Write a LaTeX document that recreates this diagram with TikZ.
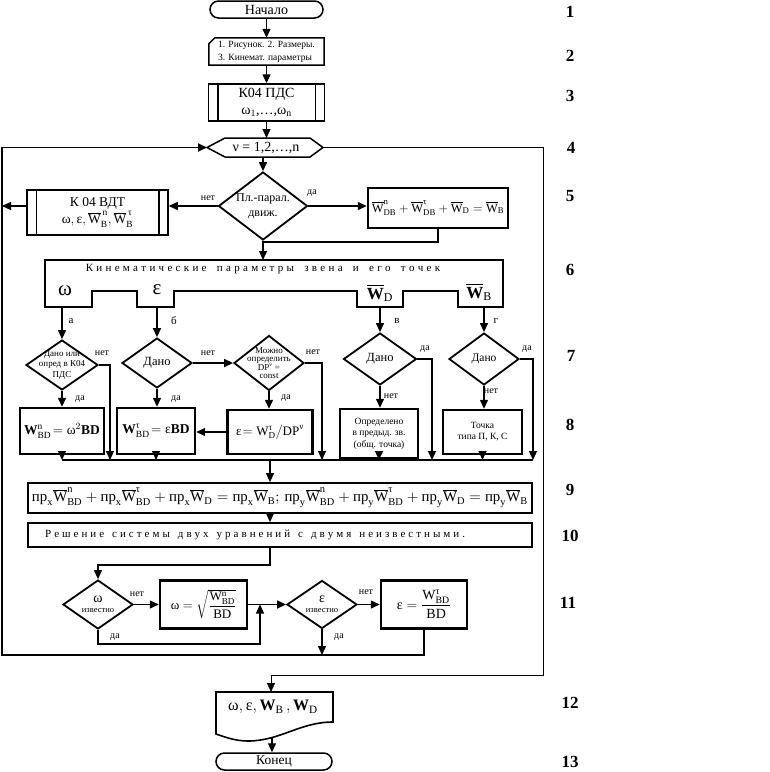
\RequirePackage{fix-cm}
\documentclass[tikz,border=0pt]{standalone}
\usepackage{amsmath}
\usepackage{fontspec}
\setmainfont{Liberation Serif}
\usetikzlibrary{arrows.meta,shapes.geometric,calc}
\newcommand{\Wo}{\overline{\mathrm{W}}}
\newcommand{\prj}{\text{пр}}
\newcommand{\gom}{\text{ω}}
\newcommand{\geps}{\text{ε}}
\newcommand{\gtau}{\text{τ}}
\newcommand{\gnu}{\text{ν}}
\newcommand{\fs}[2]{\fontsize{#1}{#2}\selectfont}
\tikzset{
  ln/.style={line width=1.3pt},
  arr/.style={line width=1.3pt,-{Triangle[length=9pt,width=8pt]}},
  thinbox/.style={draw,line width=1.5pt,inner sep=0pt,align=center},
  thickbox/.style={draw,line width=2.4pt,inner sep=0pt,align=center},
  dia/.style 2 args={draw,diamond,line width=1.8pt,inner sep=0pt,minimum width=#1pt,minimum height=#2pt},
  txt/.style={inner sep=0pt,align=center},
  yn/.style={inner sep=0pt,font=\fs{10}{11}},
  num/.style={inner sep=0pt,font=\fs{17}{17}\bfseries},
}
\begin{document}
\begin{tikzpicture}[x=1pt,y=-1pt]
\useasboundingbox (0,0) rectangle (770,772);
% ---- 1
\node[thinbox,rounded corners=8.5pt,minimum width=113pt,minimum height=17pt,font=\fs{14}{15}] (start) at (266.5,9.5) {Начало};
% ---- 2
\node[txt,minimum width=115pt,minimum height=27pt,font=\fs{9.5}{12.5}] (b2) at (266.5,51.5) {\begin{tabular}{@{}l@{}}1. Рисунок. 2. Размеры.\\3. Кинемат. параметры\end{tabular}};
\draw[line width=1.5pt] (b2.south west) -- ([yshift=-6pt]b2.north west) -- ([xshift=6pt]b2.north west) -- (b2.north east) -- (b2.south east) -- cycle;
\draw[arr] (start) -- (b2);
% ---- 3
\node[thinbox,minimum width=116pt,minimum height=37pt,font=\fs{14}{17}] (b3) at (266.5,102.5) {К04 ПДС\\ω$_{1}$,…,ω$_{\mathrm{n}}$};
\draw[line width=1.5pt] ([xshift=10pt]b3.north west) -- ([xshift=10pt]b3.south west)
  ([xshift=-10pt]b3.north east) -- ([xshift=-10pt]b3.south east);
\draw[arr] (b2) -- (b3);
% ---- 4 loop
\node[txt,font=\fs{14}{15}] (hex) at (266,147.5) {ν = 1,2,…,n};
\draw[line width=1.5pt] (207,147.5) -- (225,138) -- (310,138) -- (323,147.5) -- (310,157) -- (225,157) -- cycle;
\coordinate (hexL) at (207,147.5);
\coordinate (hexR) at (323,147.5);
\coordinate (hexT) at (266.5,138);
\coordinate (hexB) at (263,157);
\draw[arr] (b3.south) -- (hexT);
% ---- 5
\node[dia={89}{68}] (d5) at (263,206) {};
\node[txt,font=\fs{12}{15}] at (d5) {Пл.-парал.\\движ.};
\draw[arr] (hexB) -- (d5);
\node[thinbox,minimum width=141pt,minimum height=45pt,font=\fs{13.5}{17}] (vdt) at (97.5,212.5) {К 04 ВДТ\\$\gom,\geps,\Wo^{\,\mathrm{n}}_{\mathrm{B}},\Wo^{\,\gtau}_{\mathrm{B}}$};
\draw[line width=1.5pt] ([xshift=10pt]vdt.north west) -- ([xshift=10pt]vdt.south west)
  ([xshift=-10pt]vdt.north east) -- ([xshift=-10pt]vdt.south east);
\draw[arr] (d5.west) -- (d5.west -| vdt.east);
\coordinate (L5) at (2,206);
\draw[arr] (vdt.west |- d5.west) -- (L5);
\node[yn] at (208,198) {нет};
\node[thickbox,minimum width=140pt,minimum height=40pt,font=\fs{12.5}{15}] (bw) at (438,208) {$\Wo^{\mathrm{n}}_{\mathrm{DB}}+\Wo^{\gtau}_{\mathrm{DB}}+\Wo_{\mathrm{D}}=\Wo_{\mathrm{B}}$};
\draw[arr] (d5.east) -- (d5.east -| bw.west);
\node[yn] at (312,193) {да};
\coordinate (j5) at (263,242);
\coordinate (b6T) at (263,260);
\draw[arr] (bw.south) |- (j5) -- (b6T);
% ---- 6
\draw[line width=1.6pt] (45,260) -- (503,260) -- (503,307) -- (458,307) -- (458,291) -- (403,291) -- (403,307) -- (357,307) -- (357,291) -- (174,291) -- (174,307) -- (137,307) -- (137,291) -- (92,291) -- (92,307) -- (45,307) -- cycle;
\node[txt,font=\fs{11}{12}] (t6) at (263,269) {\spaceskip=3.3pt\relax К и н е м а т и ч е с к и е\hspace{7pt} п а р а м е т р ы\hspace{7pt} з в е н а\hspace{7pt} и\hspace{7pt} е г о\hspace{7pt} т о ч е к};
\node[txt,font=\fs{21}{21}] (tw) at (65,291) {ω};
\node[txt,font=\fs{21}{21}] (te) at (157,290) {ε};
\node[txt,font=\fs{17}{17}] (twd) at (380,293) {$\overline{\mathbf{W}}_{\mathrm{D}}$};
\node[txt,font=\fs{17}{17}] (twb) at (479,292) {$\overline{\mathbf{W}}_{\mathrm{B}}$};
\coordinate (ta) at (62,307);
\coordinate (tb) at (157,307);
\coordinate (tc) at (380,307);
\coordinate (td) at (484,307);
\node[yn,font=\fs{11}{12}] at (71,321) {а};
\node[yn,font=\fs{11}{12}] at (174,321) {б};
\node[yn,font=\fs{11}{12}] at (397,321) {в};
\node[yn,font=\fs{11}{12}] at (496,321) {г};
% ---- 7
\node[dia={72}{50}] (da) at (62,365) {};
\node[txt,font=\fs{9}{10.5}] at (da) {Дано или\\опред в К04\\ПДС};
\node[dia={70}{50}] (db) at (157,363) {};
\node[txt,font=\fs{12.5}{13}] at (db) {Дано};
\node[dia={70}{55}] (dc) at (269,363) {};
\node[txt,font=\fs{9}{8.5}] at (dc) {Можно\\определить\\DP$^{\gnu}$ =\\const};
\node[dia={73}{52}] (dd) at (380,359) {};
\node[txt,font=\fs{12.5}{13}] at (dd) {Дано};
\node[dia={70}{52}] (de) at (484,359) {};
\node[txt,font=\fs{11.5}{12}] at (de) {Дано};
\draw[arr] (ta) -- (da);
\draw[arr] (tb) -- (db);
\draw[arr] (tc) -- (dd);
\draw[arr] (td) -- (de);
\draw[arr] (db.east) -- (dc.west);
\node[yn] at (102,353) {нет};
\node[yn] at (80,399) {да};
\node[yn] at (208,353) {нет};
\node[yn] at (176,399) {да};
\node[yn] at (313,352) {нет};
\node[yn] at (286,398) {да};
\node[yn] at (425,349) {да};
\node[yn] at (391,396) {нет};
\node[yn] at (527,349) {да};
\node[yn] at (491,391) {нет};
% ---- 8
\node[thickbox,minimum width=84pt,minimum height=46pt,font=\fs{13.5}{16}] (ba) at (62,431) {$\mathbf{W}^{\mathrm{n}}_{\mathrm{BD}}\!=\gom^{2}\mathbf{BD}$};
\node[thickbox,minimum width=78pt,minimum height=46pt,font=\fs{13.5}{16}] (bb) at (156,431) {$\mathbf{W}^{\gtau}_{\mathrm{BD}}\!=\geps\mathbf{BD}$};
\node[thickbox,minimum width=85pt,minimum height=44pt,font=\fs{13}{15}] (bc) at (270,432) {$\geps\!=\mathrm{W}^{\gtau}_{\mathrm{D}}\big/\mathrm{DP}^{\gnu}$};
\node[thickbox,minimum width=78pt,minimum height=49pt,font=\fs{9.5}{11.5}] (bd) at (379,433.5) {Определено\\в предыд. зв.\\(общ. точка)};
\node[thickbox,minimum width=79pt,minimum height=44pt,font=\fs{9.5}{11}] (be) at (482.5,432) {Точка\\типа П, К, С};
\draw[arr] (da) -- (ba);
\draw[arr] (db.south) -- (db.south |- bb.north);
\draw[arr] (dc.south) -- (dc.south |- bc.north);
\draw[arr] (dd.south) -- (dd.south |- bd.north);
\draw[arr] (de.south) -- (de.south |- be.north);
\draw[arr] (bc.west) -- (bc.west -| bb.east);
\coordinate (busL) at (62,460);
\coordinate (busR) at (533,460);
\coordinate (sa) at (110,460);
\coordinate (sc) at (322,460);
\coordinate (sd) at (432,460);
\draw[ln] (busL) -- (busR);
\draw[arr] (da.east) -| (sa);
\draw[arr] (dc.east) -| (sc);
\draw[arr] (dd.east) -| (sd);
\draw[arr] (de.east) -| (busR);
\draw[arr] (ba.south) -- (ba.south |- busL);
\draw[arr] (bb.south) -- (bb.south |- busL);
\draw[arr] (bd.south) -- (bd.south |- busL);
\draw[arr] (be.south) -- (be.south |- busL);
% ---- 9, 10
\coordinate (bus9) at (270,460);
\node[draw,line width=1.8pt,inner sep=0pt,minimum width=504pt,minimum height=30pt] (b9) at (280,498) {\resizebox{496pt}{!}{$\prj_{\mathrm{x}}\Wo^{\mathrm{n}}_{\mathrm{BD}}+\prj_{\mathrm{x}}\Wo^{\gtau}_{\mathrm{BD}}+\prj_{\mathrm{x}}\Wo_{\mathrm{D}}=\prj_{\mathrm{x}}\Wo_{\mathrm{B}};\,\prj_{\mathrm{y}}\Wo^{\mathrm{n}}_{\mathrm{BD}}+\prj_{\mathrm{y}}\Wo^{\gtau}_{\mathrm{BD}}+\prj_{\mathrm{y}}\Wo_{\mathrm{D}}=\prj_{\mathrm{y}}\Wo_{\mathrm{B}}$}};
\draw[arr] (bus9) -- (bus9 |- b9.north);
\node[draw,line width=1.8pt,inner sep=0pt,minimum width=504pt,minimum height=24pt] (b10) at (280,535) {};
\node[txt,anchor=west,font=\fs{11}{12}] (t10) at (45,535) {\spaceskip=3pt\relax Р е ш е н и е\hspace{5pt} с и с т е м ы\hspace{5pt} д в у х\hspace{5pt} у р а в н е н и й\hspace{5pt} с\hspace{5pt} д в у м я\hspace{5pt} н е и з в е с т н ы м и .};
\draw[arr] (b9.south -| bus9) -- (b10.north -| bus9);
% ---- 11
\node[dia={70}{49}] (dw) at (98,604.5) {};
\node[txt,font=\fs{8.5}{10}] at (dw) {{\fs{14}{14}ω}\\известно};
\coordinate (j11) at (98,565);
\draw[arr] (b10.south -| bus9) |- (j11) -- (dw);
\node[thickbox,minimum width=87pt,minimum height=48pt,font=\fs{13}{15}] (bo) at (203.5,604.5) {$\gom=\sqrt{\dfrac{\mathrm{W}^{\mathrm{n}}_{\mathrm{BD}}}{\mathrm{BD}}}$};
\draw[arr] (dw.east) -- (dw.east -| bo.west);
\node[yn] at (137,594) {нет};
\node[yn] at (115,637) {да};
\coordinate (jw) at (260,644);
\coordinate (jwe) at (260,604.5);
\draw[arr] (dw.south) |- (jw) -- (jwe);
\node[dia={70}{48}] (dz) at (322,604.5) {};
\node[txt,font=\fs{8.5}{10}] at (dz) {{\fs{14}{14}ε}\\известно};
\draw[arr] (bo.east) -- (bo.east -| dz.west);
\node[thickbox,minimum width=86pt,minimum height=48pt,font=\fs{14}{16}] (bz) at (424,604.5) {$\geps=\dfrac{\mathrm{W}^{\gtau}_{\mathrm{BD}}}{\mathrm{BD}}$};
\draw[arr] (dz.east) -- (dz.east -| bz.west);
\node[yn] at (366,592) {нет};
\node[yn] at (339,637) {да};
\coordinate (jz) at (322,655);
\draw[arr] (dz.south) -- (jz);
\coordinate (loopBL) at (2,655);
\draw[arr,line width=1.8pt] (bz.south) |- (loopBL) |- (hexL);
% ---- right loop to output
\coordinate (loopR) at (543,675);
\coordinate (j12) at (271,675);
\coordinate (docT) at (271,692);
\draw[arr,line width=1pt] (hexR) -| (loopR) -- (j12) -- (docT);
% ---- 12
\draw[line width=1.6pt] (216,692) -- (333,692) -- (333,722) .. controls (300,722) and (280,741) .. (248,741) .. controls (235,741) and (225,737) .. (216,734) -- cycle;
\node[txt,font=\fs{16}{18}] (doc) at (273,707) {$\gom,\geps,\mathbf{W}_{\mathrm{B}}\,,\mathbf{W}_{\mathrm{D}}$};
\coordinate (docB) at (272,738);
% ---- 13
\node[thinbox,rounded corners=8.5pt,minimum width=116pt,minimum height=17pt,font=\fs{13.5}{14}] (endn) at (274,761.5) {Конец};
\draw[arr] (docB) -- (docB |- endn.north);
% ---- numbers
\node[num] at (570,12) {1};
\node[num] at (570,56) {2};
\node[num] at (570,96) {3};
\node[num] at (571,148) {4};
\node[num] at (570,196) {5};
\node[num] at (570,270) {6};
\node[num] at (571,356) {7};
\node[num] at (570,425) {8};
\node[num] at (570,490) {9};
\node[num] at (570,536) {10};
\node[num] at (568,603) {11};
\node[num] at (570,703) {12};
\node[num] at (570,762) {13};
\end{tikzpicture}
\end{document}
